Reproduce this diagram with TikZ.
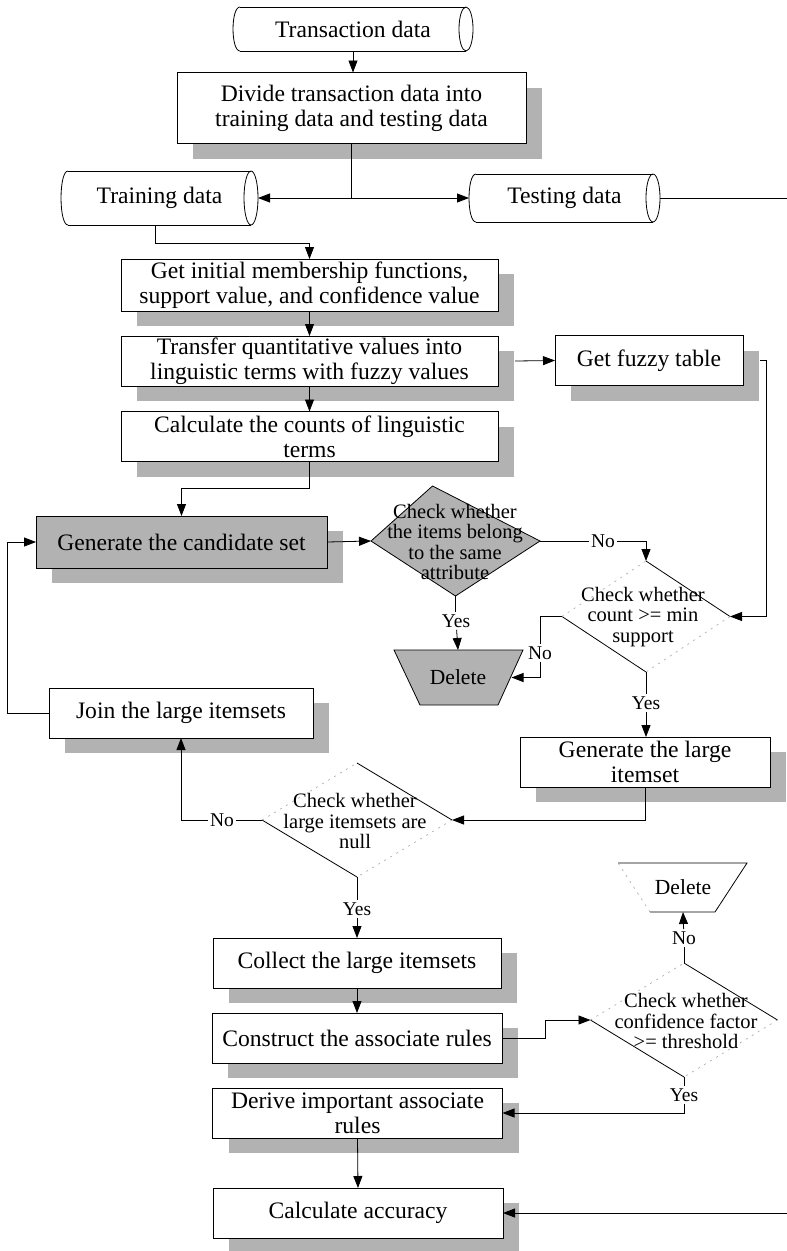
\documentclass[tikz,border=0pt]{standalone}
\usepackage{fontspec}
\setmainfont{Liberation Serif}
\usetikzlibrary{arrows.meta,shadows,shapes.geometric}
\newcommand{\mfs}{\fontsize{23.6pt}{25pt}\selectfont}
\newcommand{\cylout}[2]{%
  \draw ([xshift=7pt]#1.north west) -- ([xshift=-7pt]#1.north east);
  \draw ([xshift=7pt]#1.south west) -- ([xshift=-7pt]#1.south east);
  \draw ([xshift=7pt]#1.north west) .. controls ([xshift=-2.3pt]#1.north west) and ([xshift=-2.3pt]#1.south west) .. ([xshift=7pt]#1.south west);
  \draw ([xshift=-7pt]#1.east) ellipse [x radius=7pt, y radius=#2];
}
\begin{document}
\begin{tikzpicture}[x=1pt, y=-1pt, line width=0.8pt,
  >={Triangle[length=12pt,width=9pt]},
  box/.style={draw, fill=white, inner sep=0pt, outer sep=0pt, align=center, font=\mfs,
    drop shadow={shadow xshift=16pt, shadow yshift=-15pt, fill=black!30, opacity=1}},
  cylnode/.style={draw=none, inner sep=0pt, outer sep=0pt, font=\mfs},
  dia/.style={diamond, draw=none, inner sep=0pt, outer sep=0pt},
  dtext/.style={align=center, inner sep=0pt, font=\fontsize{20.5pt}{20.5pt}\selectfont},
  lbl/.style={inner sep=2pt, font=\fontsize{19.5pt}{21pt}\selectfont},
  deltext/.style={inner sep=0pt, outer sep=0pt, font=\fontsize{21.5pt}{23pt}\selectfont},
  faint/.style={draw=black!35, line width=0.6pt, dash pattern=on 2pt off 5pt}
]
\fill[white] (0,0) rectangle (787,1251);
\useasboundingbox (0,0) rectangle (787,1251);

% ---------- top part ----------
\node[cylnode, minimum width=240pt, minimum height=44pt] (trans) at (353,29) {Transaction data};
\cylout{trans}{22pt}
\node[box, minimum width=349pt, minimum height=71pt] (divide) at (351.5,108) {Divide transaction data into\\training data and testing data};
\node[cylnode, minimum width=197pt, minimum height=54pt] (training) at (159.5,198) {Training data};
\cylout{training}{27pt}
\node[cylnode, minimum width=191pt, minimum height=48pt] (testing) at (564.5,198) {Testing data};
\cylout{testing}{24pt}
\coordinate (split) at (divide.south |- training.east);
\coordinate (rtop) at (787,198);

\node[box, minimum width=377pt, minimum height=52pt] (getinit) at (309.5,285) {Get initial membership functions,\\support value, and confidence value};
\node[box, minimum width=377pt, minimum height=50pt] (transfer) at (309.5,361) {Transfer quantitative values into\\linguistic terms with fuzzy values};
\node[box, minimum width=188pt, minimum height=50pt] (fuzzy) at (649,360.5) {Get fuzzy table};
\node[box, minimum width=377pt, minimum height=50pt] (calc) at (309.5,436.5) {Calculate the counts of linguistic\\terms};

% ---------- middle part ----------
\node[box, fill=black!30, minimum width=291pt, minimum height=52pt] (gc) at (181.5,542) {Generate the candidate set};
\node[dia, minimum width=169pt, minimum height=110pt] (d1) at (455.5,541) {};
\filldraw[fill=black!30] (d1.west) -- ([xshift=-23pt]d1.north) -- (d1.east) -- (d1.south) -- cycle;
\node[dtext] (d1t) at (455,542) {Check whether\\the items belong\\to the same\\attribute};

\node[dia, minimum width=168pt, minimum height=111pt] (d2) at (646,616.5) {};
\draw (d2.west) -- (d2.south);
\draw (d2.north) -- (d2.east);
\draw[faint] (d2.west) -- (d2.north);
\draw[faint] (d2.east) -- (d2.south);
\node[dtext] (d2t) at (643,617) {Check whether\\count >= min\\support};

\filldraw[fill=black!30] (394,650) -- (523,650) -- (498,705) -- (420,705) -- cycle;
\node[deltext, minimum width=107pt, minimum height=55pt] (del1) at (458,677.5) {Delete};

\node[box, minimum width=264pt, minimum height=50pt] (join) at (181,713) {Join the large itemsets};
\node[box, minimum width=250pt, minimum height=50pt] (gl) at (645,762) {Generate the large\\itemset};

\node[dia, minimum width=190pt, minimum height=114pt] (d3) at (357,820) {};
\draw (d3.west) -- (d3.south);
\draw (d3.north) -- (d3.east);
\draw[faint] (d3.west) -- (d3.north);
\draw[faint] (d3.east) -- (d3.south);
\node[dtext] (d3t) at (355,821) {Check whether\\large itemsets are\\null};

% ---------- lower part ----------
\draw (618,863) -- (747,863) -- (715,912) -- (650,912);
\draw[faint] (650,912) -- (618,863);
\node[deltext, minimum width=100pt, minimum height=49pt] (del2) at (683,887.5) {Delete};

\node[box, minimum width=288pt, minimum height=50pt] (collect) at (357,963) {Collect the large itemsets};
\node[box, minimum width=290pt, minimum height=50pt] (construct) at (357,1038) {Construct the associate rules};
\node[box, minimum width=290pt, minimum height=50pt] (derive) at (357.5,1113) {Derive important associate\\rules};
\node[box, minimum width=290pt, minimum height=50pt] (calcacc) at (358,1213) {Calculate accuracy};
\coordinate (rbot) at (787,1213);

\node[dia, minimum width=187pt, minimum height=114pt] (d4) at (684,1020) {};
\draw (d4.west) -- (d4.south);
\draw (d4.north) -- (d4.east);
\draw[faint] (d4.west) -- (d4.north);
\draw[faint] (d4.east) -- (d4.south);
\node[dtext] (d4t) at (686,1021) {Check whether\\confidence factor\\>= threshold};

% ---------- labels ----------
\node[lbl] (no1) at (603,541) {No};
\node[lbl] (yes1) at (456,621) {Yes};
\node[lbl] (no2) at (540,653) {No};
\node[lbl] (yes2) at (646,703) {Yes};
\node[lbl] (no3) at (222,820) {No};
\node[lbl] (yes3) at (357,909) {Yes};
\node[lbl] (no4) at (684,938) {No};
\node[lbl] (yes4) at (684,1095) {Yes};

% ---------- connectors ----------
\draw[->] (trans.south) -- (trans.south |- divide.north);
\draw (divide.south) -- (split);
\draw[->] (split) -- (training.east);
\draw[->] (split) -- (testing.west);
\draw (testing.east) -- (rtop);
\draw[->] ([xshift=-4pt]training.south) -- ++(0,18) -| (getinit.north);
\draw[->] (getinit.south) -- (transfer.north);
\draw[->] ([xshift=17pt]transfer.east) -- (fuzzy.west);
\draw[->] (transfer.south) -- (calc.north);
\draw[->] (calc.south) -- ++(0,27) -| (gc.north);
\draw[->] ([xshift=17pt]fuzzy.east) -- ++(6,0) |- (d2.east);
\draw[->] (gc.east) -- (d1.west);
\draw (d1.east) -- (no1);
\draw[->] (no1) -| (d2.north);
\draw (d1.south) -- (d1.south |- yes1.north);
\draw[->] (yes1) -- (del1.north);
\draw (d2.west) -| (no2);
\draw[->] (no2) |- (del1.east);
\draw (d2.south) -- (d2.south |- yes2.north);
\draw[->] (yes2) -- (yes2 |- gl.north);
\draw[->] (gl.south) |- (d3.east);
\draw (d3.west) -- (no3);
\draw[->] (no3) -| (join.south);
\draw[->] (join.west) -- ++(-42,0) |- (gc.west);
\draw (d3.south) -- (d3.south |- yes3.north);
\draw[->] (yes3) -- (collect.north);
\draw[->] (collect.south) -- (construct.north);
\draw[->] (construct.east) -- ++(43,0) |- (d4.west);
\draw (d4.north) -- (no4);
\draw[->] (no4) -- (del2.south);
\draw (d4.south) -- (yes4);
\draw[->] (yes4) |- (derive.east);
\draw[->] (derive.south) -- (calcacc.north);
\draw[->] (rbot) -- (calcacc.east);
\end{tikzpicture}
\end{document}
